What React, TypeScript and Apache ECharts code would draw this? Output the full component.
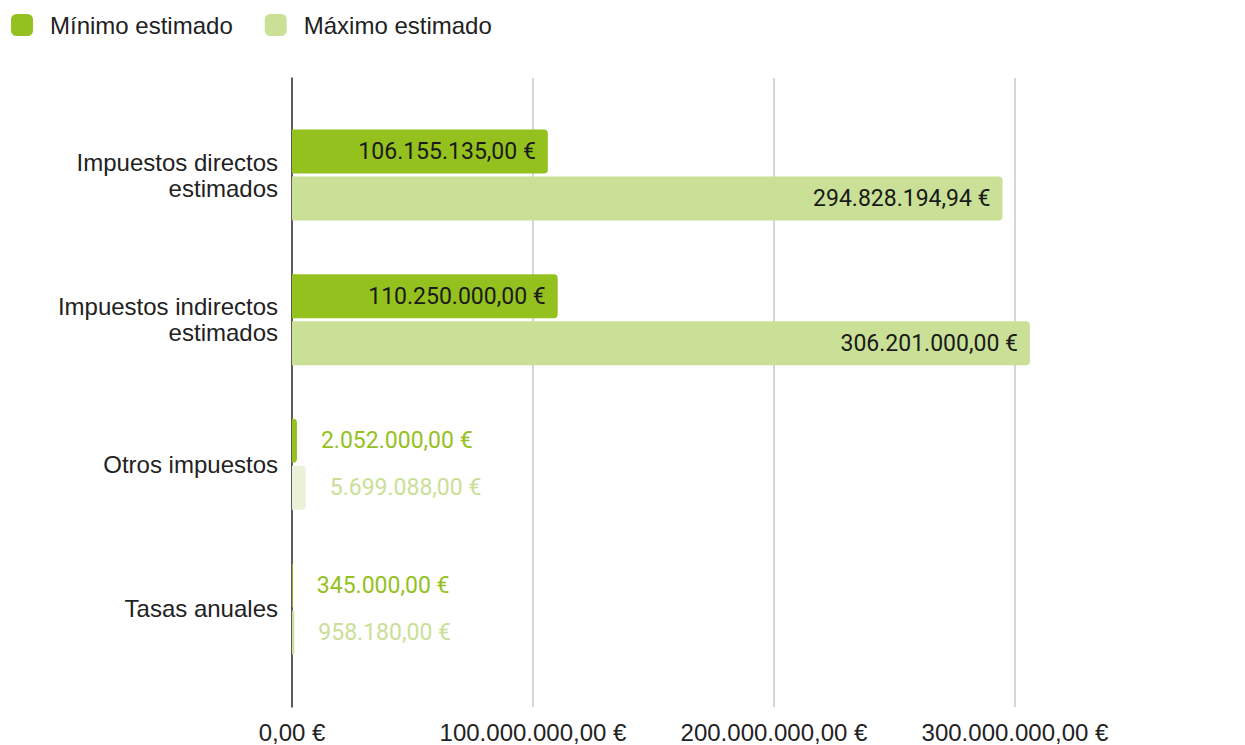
import React, { useEffect, useRef } from "react";
import * as echarts from "echarts";

// Categories, top to bottom
const categories = [
  "Impuestos directos\nestimados",
  "Impuestos indirectos\nestimados",
  "Otros impuestos",
  "Tasas anuales",
];

// Series values (euros)
const minimoValues = [106155135.0, 110250000.0, 2052000.0, 345000.0];
const maximoValues = [294828194.94, 306201000.0, 5699088.0, 958180.0];

// X-axis tick values
const xTicks = [0, 100000000, 200000000, 300000000];

const seriesNames = ["Mínimo estimado", "Máximo estimado"];

const COLOR_MIN = "#95c11f";
const COLOR_MAX = "#c9e096";
const COLOR_MAX_FADED = "#e9f2d9";
const INSIDE_THRESHOLD = 50000000;

const LABEL_FONT = "'Liberation Sans', Arial, sans-serif";
const VALUE_FONT = "Roboto, 'Liberation Sans', sans-serif";

function euro(v: number): string {
  const fixed = v.toFixed(2);
  const [intPart, dec] = fixed.split(".");
  const grouped = intPart.replace(/\B(?=(\d{3})+(?!\d))/g, ".");
  return `${grouped},${dec} €`;
}

function buildData(values: number[], color: string, fadedIndex: number | null) {
  return values.map((v, i) => {
    const inside = v > INSIDE_THRESHOLD;
    const item: any = {
      value: v,
      label: inside
        ? {
            position: "insideRight",
            distance: 12,
            color: "#1a1a1a",
          }
        : {
            position: "right",
            distance: 24,
            color,
          },
    };
    if (fadedIndex === i) {
      item.itemStyle = { color: COLOR_MAX_FADED };
    }
    return item;
  });
}

export default function App() {
  const ref = useRef<HTMLDivElement>(null);

  useEffect(() => {
    if (!ref.current) return;
    const chart = echarts.init(ref.current, null, { renderer: "svg" });

    const xMax = xTicks[xTicks.length - 1];
    const xInterval = xTicks[1] - xTicks[0];

    const labelCommon = {
      show: true,
      fontFamily: VALUE_FONT,
      fontSize: 23,
      formatter: (p: any) => euro(p.value),
    };

    chart.setOption({
      animation: false,
      backgroundColor: "#ffffff",
      legend: {
        left: 11,
        top: 13,
        padding: 0,
        itemWidth: 22,
        itemHeight: 22,
        itemGap: 32,
        icon: "roundRect",
        data: seriesNames,
        textStyle: {
          fontFamily: LABEL_FONT,
          fontSize: 24,
          color: "#222222",
          padding: [0, 0, 0, 12],
        },
      },
      grid: [
        // frame holding the value gridlines and the baseline
        { left: 292, right: 230, top: 78, bottom: 38 },
        // bar area
        { left: 292, right: 230, top: 102.75, bottom: 63.75 },
      ],
      xAxis: [
        {
          gridIndex: 0,
          type: "value",
          min: 0,
          max: xMax,
          interval: xInterval,
          axisLine: { show: false },
          axisTick: { show: false },
          splitLine: { show: true, lineStyle: { color: "#c8c8c8", width: 1.5 } },
          axisLabel: {
            margin: 13,
            fontFamily: LABEL_FONT,
            fontSize: 24,
            color: "#222222",
            formatter: (v: number) => euro(v),
          },
        },
        {
          gridIndex: 1,
          type: "value",
          min: 0,
          max: xMax,
          show: false,
          splitLine: { show: false },
        },
      ],
      yAxis: [
        {
          gridIndex: 0,
          type: "value",
          min: 0,
          max: 1,
          axisLine: { show: true, onZero: false, lineStyle: { color: "#333333", width: 1.5 } },
          axisTick: { show: false },
          axisLabel: { show: false },
          splitLine: { show: false },
        },
        {
          gridIndex: 1,
          type: "category",
          inverse: true,
          data: categories,
          axisLine: { show: false },
          axisTick: { show: false },
          axisLabel: {
            margin: 14,
            fontFamily: LABEL_FONT,
            fontSize: 24,
            lineHeight: 26,
            color: "#222222",
            align: "right",
          },
        },
      ],
      series: [
        {
          name: seriesNames[0],
          type: "bar",
          xAxisIndex: 1,
          yAxisIndex: 1,
          barWidth: 44,
          barGap: "7%",
          clip: false,
          z: 3,
          itemStyle: { color: COLOR_MIN, borderRadius: [0, 4, 4, 0] },
          label: labelCommon,
          data: buildData(minimoValues, COLOR_MIN, null),
        },
        {
          name: seriesNames[1],
          type: "bar",
          xAxisIndex: 1,
          yAxisIndex: 1,
          barWidth: 44,
          clip: false,
          z: 3,
          itemStyle: { color: COLOR_MAX, borderRadius: [0, 4, 4, 0] },
          label: labelCommon,
          data: buildData(maximoValues, COLOR_MAX, 2),
        },
      ],
    });

    return () => chart.dispose();
  }, []);

  return (
    <div
      ref={ref}
      style={{ position: "fixed", left: 0, top: 0, width: 1245, height: 745 }}
    />
  );
}
